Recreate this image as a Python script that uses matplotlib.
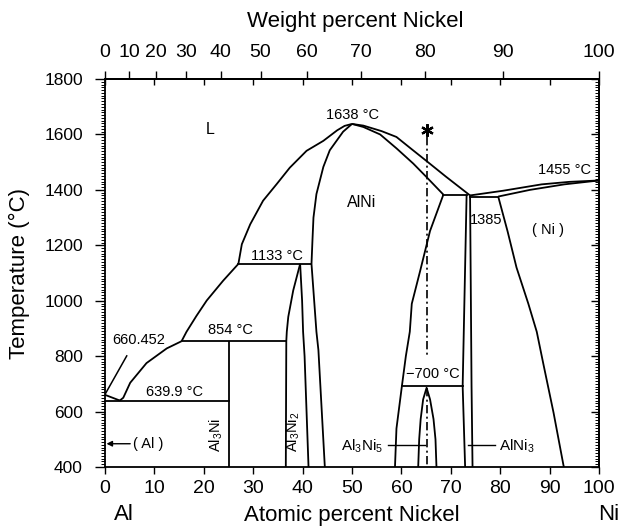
import matplotlib
matplotlib.use('Agg')
import matplotlib.pyplot as plt
from matplotlib.ticker import MultipleLocator, FixedLocator

plt.rcParams['font.family'] = ['Liberation Sans', 'DejaVu Sans']
plt.rcParams['mathtext.default'] = 'regular'

# ---------------- data: (atomic % Ni, temperature in deg C) ----------------
al_liq_x = [0, 3.0]
al_liq_t = [660.452, 639.9]

liq1_x = [3.0, 3.7, 5.1, 8.4, 12.5, 15.5]
liq1_t = [639.9, 650, 704, 775, 828, 854]

liq2_x = [15.5, 16.5, 18.5, 20.6, 23.9, 27.0]
liq2_t = [854, 888, 945, 1001, 1072, 1133]

liq3_x = [27.0, 27.7, 29.4, 32.0, 34.8, 37.4, 40.8, 44.2, 47.0, 48.5, 50.0]
liq3_t = [1133, 1204, 1276, 1361, 1422, 1480, 1541, 1577, 1615, 1631, 1638]

liq4_x = [50.0, 52.3, 56.0, 59.0, 62.0, 65.1, 69.0, 73.9]
liq4_t = [1638, 1632, 1612, 1591, 1548, 1504, 1448, 1380]

alni_left_x = [41.8, 42.0, 42.2, 42.8, 44.2, 45.5, 48.2, 50.0]
alni_left_t = [1133, 1220, 1300, 1385, 1483, 1543, 1610, 1638]

alni_sol_r_x = [50.0, 52.3, 55.7, 59.0, 62.4, 65.1, 68.5]
alni_sol_r_t = [1638, 1627, 1600, 1550, 1495, 1446, 1383]

alni_solvus_x = [68.5, 65.8, 63.8, 62.1, 61.7, 60.9, 60.1, 59.0, 58.7]
alni_solvus_t = [1383, 1252, 1108, 989, 888, 800, 692, 539, 400]

alni_low_x = [41.8, 42.8, 43.2, 44.5]
alni_low_t = [1133, 888, 822, 400]

al3ni_x = [25.0, 25.0]
al3ni_t = [854, 400]

al3ni2_l_x = [39.5, 38.1, 37.1, 36.8, 36.7, 36.6]
al3ni2_l_t = [1133, 1037, 942, 888, 854, 400]
al3ni2_r_x = [39.5, 39.9, 40.1, 40.4, 41.2]
al3ni2_r_t = [1133, 1000, 888, 800, 400]

al3ni5_x = [63.4, 63.6, 63.9, 64.4, 65.1, 65.8, 66.5, 66.9, 67.1]
al3ni5_t = [400, 500, 573, 644, 686, 644, 573, 500, 400]

alni3_l_x = [73.2, 72.4, 72.9]
alni3_l_t = [1383, 692, 400]
alni3_r_x = [73.9, 74.2, 74.4]
alni3_r_t = [1380, 692, 400]

ni_liq_x = [73.9, 80.6, 88.4, 94.0, 100.0]
ni_liq_t = [1380, 1397, 1420, 1429, 1434]
ni_sol_x = [79.6, 86.0, 93.0, 100.0]
ni_sol_t = [1376, 1400, 1420, 1434]
ni_solvus_x = [79.6, 81.5, 83.3, 85.7, 87.4, 88.7, 90.8, 92.8, 92.9]
ni_solvus_t = [1376, 1250, 1120, 989, 888, 775, 596, 407, 400]

# invariant (horizontal) lines: (x_start, x_end, T)
iso_lines = [(0.0, 25.0, 639.9), (15.5, 36.7, 854), (27.0, 41.8, 1133),
             (68.5, 73.2, 1383), (73.9, 79.6, 1376), (60.1, 72.4, 692)]

marker_x = 65.1
dash_upper_t = [1592, 800]
dash_lower_t = [686, 400]
star_t = 1617

wt_ticks = [0, 10, 20, 30, 40, 50, 60, 70, 80, 90, 100]
M_NI, M_AL = 58.69, 26.98

# ---------------- figure ----------------
fig = plt.figure(figsize=(6.25, 5.28), dpi=100)
ax = fig.add_axes([0.168, 0.1155, 0.7904, 0.7348])
ax.set_xlim(0, 100)
ax.set_ylim(400, 1800)

LW = 1.3
K = 'black'
for xs, ts in [(al_liq_x, al_liq_t), (liq1_x, liq1_t), (liq2_x, liq2_t),
               (liq3_x, liq3_t), (liq4_x, liq4_t), (alni_left_x, alni_left_t),
               (alni_sol_r_x, alni_sol_r_t), (alni_solvus_x, alni_solvus_t),
               (alni_low_x, alni_low_t), (al3ni_x, al3ni_t),
               (al3ni2_l_x, al3ni2_l_t), (al3ni2_r_x, al3ni2_r_t),
               (al3ni5_x, al3ni5_t), (alni3_l_x, alni3_l_t),
               (alni3_r_x, alni3_r_t), (ni_liq_x, ni_liq_t),
               (ni_sol_x, ni_sol_t), (ni_solvus_x, ni_solvus_t)]:
    ax.plot(xs, ts, color=K, lw=LW, solid_capstyle='butt', solid_joinstyle='round')

for x0, x1, t in iso_lines:
    ax.plot([x0, x1], [t, t], color=K, lw=LW)

dash = (0, (5, 2, 1.2, 2))
ax.plot([marker_x, marker_x], dash_upper_t, color=K, lw=1.2, linestyle=dash)
ax.plot([marker_x, marker_x], dash_lower_t, color=K, lw=1.2, linestyle=dash)
ax.plot([marker_x], [star_t], marker=(6, 2, 0), ms=9, mew=1.6, color=K)

# leader line for Al melting point
ax.plot([0.0, 4.4], [662, 801], color=K, lw=1.1)

# pointer lines
ax.annotate('', xy=(0.3, 484), xytext=(5.1, 484),
            arrowprops=dict(arrowstyle='-|>', lw=1.0, color=K, mutation_scale=8,
                            shrinkA=0, shrinkB=0))
ax.plot([57.3, 64.8], [478, 478], color=K, lw=1.0)
ax.plot([73.5, 78.9], [478, 478], color=K, lw=1.0)

FS = 10.5
def lab(x, t, s, fs=FS, **kw):
    kw.setdefault('ha', 'center')
    kw.setdefault('va', 'center')
    ax.text(x, t, s, fontsize=fs, color=K, **kw)

lab(21.3, 1617, 'L', fs=11.5)
lab(50.0, 1672, '1638 °C')
lab(52.0, 1355, 'AlNi', fs=11.5)
lab(34.9, 1160, '1133 °C')
lab(25.4, 893, '854 °C')
lab(1.4, 857, '660.452', ha='left')
lab(14.0, 670, '639.9 °C')
lab(5.7, 484, '( Al )', ha='left')
lab(22.6, 517, 'Al$_3$Ni', rotation=90)
lab(38.1, 527, 'Al$_3$Ni$_2$', rotation=90)
lab(66.3, 735, '\u2212700 °C')
lab(56.3, 474, 'Al$_3$Ni$_5$', fs=11, ha='right')
lab(79.8, 474, 'AlNi$_3$', fs=11, ha='left')
lab(93.1, 1470, '1455 °C')
lab(77.1, 1290, '1385')
lab(89.7, 1255, '( Ni )')

# ---------------- axes / ticks ----------------
for s in ax.spines.values():
    s.set_linewidth(1.3)

TICK_FS = 14
ax.xaxis.set_major_locator(MultipleLocator(10))
ax.yaxis.set_major_locator(MultipleLocator(200))
ax.yaxis.set_minor_locator(MultipleLocator(10))
ax.tick_params(axis='x', which='major', direction='out', length=5, width=1.0,
               labelsize=TICK_FS, pad=4, top=False)
ax.tick_params(axis='y', which='major', direction='out', length=7, width=1.0,
               labelsize=12.5, pad=9, right=False)
ax.tick_params(axis='y', which='minor', direction='out', length=3, width=0.7,
               right=False)

axr = ax.secondary_yaxis('right')
axr.yaxis.set_major_locator(MultipleLocator(200))
axr.yaxis.set_minor_locator(MultipleLocator(10))
axr.tick_params(axis='y', which='major', direction='in', length=6, width=1.0,
                labelright=False)
axr.tick_params(axis='y', which='minor', direction='in', length=3, width=0.7)
axr.spines['right'].set_linewidth(1.3)

axt_in = ax.secondary_xaxis('top')
axt_in.xaxis.set_major_locator(MultipleLocator(10))
axt_in.tick_params(axis='x', direction='in', length=4, width=1.0, labeltop=False)
axt_in.spines['top'].set_linewidth(1.3)

wt_pos = [(w / M_NI) / ((w / M_NI) + ((100 - w) / M_AL)) * 100 for w in wt_ticks]
axt = ax.secondary_xaxis('top')
axt.xaxis.set_major_locator(FixedLocator(wt_pos))
axt.set_xticklabels([str(w) for w in wt_ticks])
axt.tick_params(axis='x', direction='out', length=6, width=1.0,
                labelsize=TICK_FS, pad=7)
axt.spines['top'].set_linewidth(1.3)

ax.set_ylabel('Temperature (°C)', fontsize=16)
ax.yaxis.set_label_coords(-0.152, 0.5)

fig.text(355 / 625, 1 - 22 / 528, 'Weight percent Nickel', fontsize=16,
         ha='center', va='center')
fig.text(352 / 625, 1 - 515 / 528, 'Atomic percent Nickel', fontsize=16,
         ha='center', va='center')
fig.text(124 / 625, 1 - 515 / 528, 'Al', fontsize=16, ha='center', va='center')
fig.text(609 / 625, 1 - 515 / 528, 'Ni', fontsize=16, ha='center', va='center')

fig.savefig('out.png', dpi=100, facecolor='white')
